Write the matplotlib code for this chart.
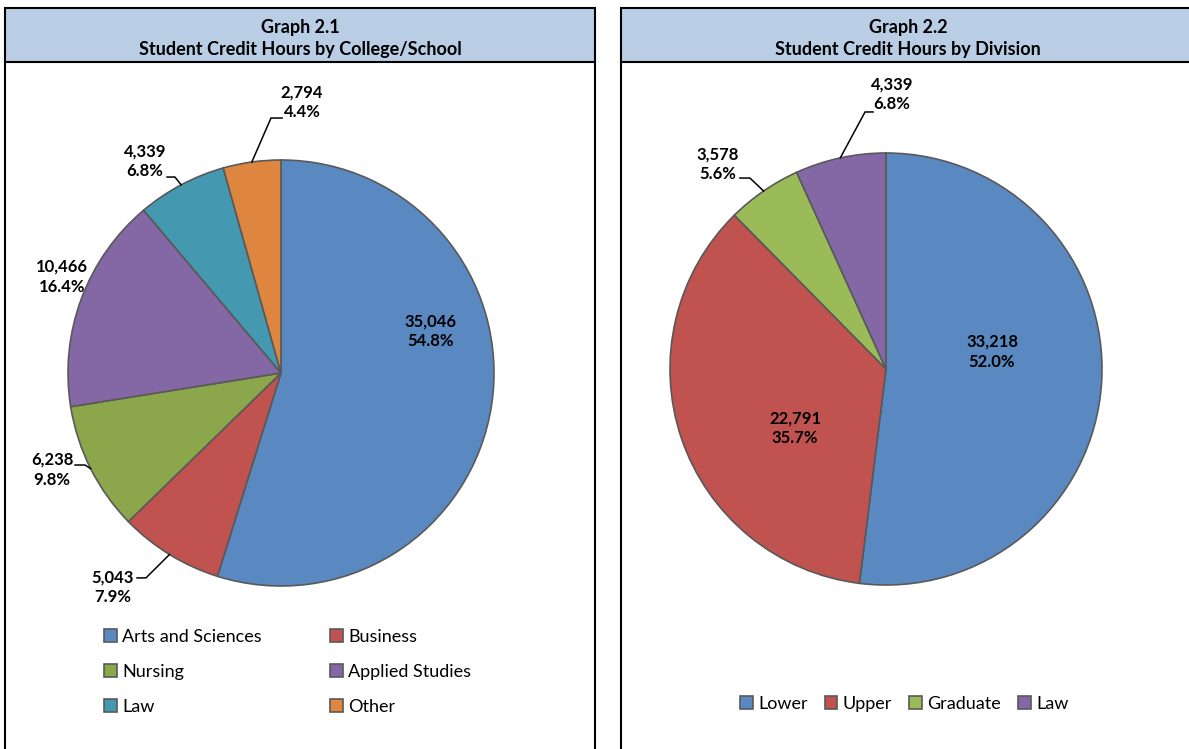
import matplotlib.pyplot as plt
import numpy as np
from matplotlib.patches import Rectangle, Patch

plt.rcParams['font.family'] = ['Lato', 'DejaVu Sans']

W, H = 1189, 749

# Graph 2.1 data
colleges = ["Arts and Sciences", "Business", "Nursing", "Applied Studies", "Law", "Other"]
college_hours = [35046, 5043, 6238, 10466, 4339, 2794]
college_colors = ["#5A89C2", "#C0524F", "#8CA64C", "#8468A6", "#4499B0", "#DE8640"]

# Graph 2.2 data
divisions = ["Lower", "Upper", "Graduate", "Law"]
division_hours = [33218, 22791, 3578, 4339]
division_colors = ["#5A89C2", "#C0524F", "#9BBB59", "#8468A6"]

# label placement in radius units: (text x, text y, elbow x, elbow y, leader end x) ; None = no leader
college_label_pos = [
    (0.700, 0.197, None, None, None),
    (-0.789, -1.005, -0.634, -0.962, -0.676),
    (-1.075, -0.455, -0.920, -0.432, -0.967),
    (-1.028, 0.451, None, None, None),
    (-0.638, 0.995, -0.498, 0.920, -0.535),
    (0.099, 1.272, -0.047, 1.197, 0.005),
]
division_label_pos = [
    (0.491, 0.079, None, None, None),
    (-0.421, -0.273, None, None, None),
    (-0.778, 0.949, -0.630, 0.884, -0.676),
    (0.028, 1.273, -0.097, 1.190, -0.060),
]


def px_axes(fig, cx, cy, r):
    # axes whose data units are pie radii, centred at pixel (cx, cy)
    return fig.add_axes([(cx - r) / W, (H - cy - r) / H, 2 * r / W, 2 * r / H])


def draw_pie(ax, values, colors, label_pos):
    total = sum(values)
    wedges, _ = ax.pie(values, colors=colors, startangle=90, counterclock=False, radius=1,
                       wedgeprops=dict(edgecolor="#595959", linewidth=1.2))
    ax.set_xlim(-1, 1)
    ax.set_ylim(-1, 1)
    ax.set_aspect('equal')
    ax.axis('off')
    ax.patch.set_alpha(0)
    for w, v, pos in zip(wedges, values, label_pos):
        tx, ty, ex, ey, hx = pos
        ax.text(tx, ty, f"{v:,}\n{v / total * 100:.1f}%", ha='center', va='center',
                fontsize=12, fontweight='bold', linespacing=1.3, clip_on=False)
        if ex is not None:
            mid = np.deg2rad((w.theta1 + w.theta2) / 2)
            ax.plot([np.cos(mid), ex, hx], [np.sin(mid), ey, ey], color='black', lw=1.1,
                    clip_on=False, solid_joinstyle='miter')


def row_major(items, ncol):
    # matplotlib fills legend columns first; reference reads across rows
    return [items[i] for c in range(ncol) for i in range(c, len(items), ncol)]


fig = plt.figure(figsize=(W / 100, H / 100), dpi=100)

# background frames
bg = fig.add_axes([0, 0, 1, 1])
bg.set_xlim(0, W)
bg.set_ylim(H, 0)
bg.axis('off')
for x0, x1 in [(5, 595), (621, 1200)]:
    bg.add_patch(Rectangle((x0, 8), x1 - x0, 54, facecolor="#B9CDE5", edgecolor='black', lw=1.5))
    bg.plot([x0, x0], [62, H + 5], color='black', lw=1.5)
    bg.plot([x1, x1], [62, H + 5], color='black', lw=1.5)
bg.text(300, 27, "Graph 2.1", ha='center', va='center', fontsize=13, fontweight='bold')
bg.text(300, 49, "Student Credit Hours by College/School", ha='center', va='center', fontsize=13, fontweight='bold')
bg.text(908, 27, "Graph 2.2", ha='center', va='center', fontsize=13, fontweight='bold')
bg.text(908, 49, "Student Credit Hours by Division", ha='center', va='center', fontsize=13, fontweight='bold')

ax1 = px_axes(fig, 281, 373, 213)
draw_pie(ax1, college_hours, college_colors, college_label_pos)

ax2 = px_axes(fig, 886, 369, 216)
draw_pie(ax2, division_hours, division_colors, division_label_pos)

h1 = [Patch(facecolor=c, edgecolor="#595959", lw=1.2) for c in college_colors]
fig.legend(row_major(h1, 2), row_major(colleges, 2), loc='center left',
           bbox_to_anchor=(104 / W, (H - 672) / H), ncol=2,
           frameon=False, fontsize=13, handlelength=0.7, handleheight=0.7, handletextpad=0.3,
           columnspacing=3.8, labelspacing=1.05, borderpad=0, borderaxespad=0)

h2 = [Patch(facecolor=c, edgecolor="#595959", lw=1.2) for c in division_colors]
fig.legend(h2, divisions, loc='center left', bbox_to_anchor=(740 / W, (H - 704) / H), ncol=4,
           frameon=False, fontsize=13, handlelength=0.7, handleheight=0.7, handletextpad=0.3,
           columnspacing=0.95, borderpad=0, borderaxespad=0)

fig.savefig("out.png", dpi=100)
